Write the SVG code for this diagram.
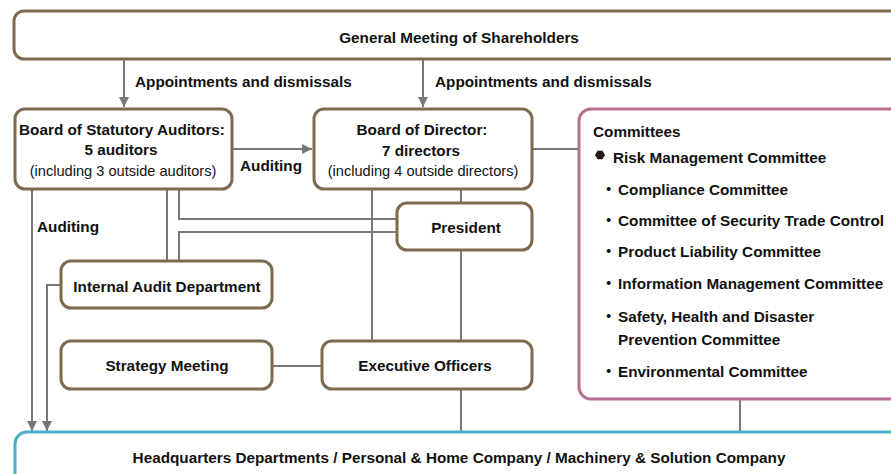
<svg xmlns="http://www.w3.org/2000/svg" width="891" height="474" viewBox="0 0 891 474">
<defs>
<marker id="arr" markerWidth="10" markerHeight="10" refX="10" refY="5" orient="auto" markerUnits="userSpaceOnUse">
<path d="M0,0 L10,5 L0,10 z" fill="#77777c"/>
</marker>
<style>
.box{fill:#fff;stroke:#7d6b50;stroke-width:3}
.cbox{fill:#fff;stroke:#b86f8f;stroke-width:3}
.hbox{fill:#fff;stroke:#4aaec8;stroke-width:3}
.ln{fill:none;stroke:#77777c;stroke-width:2}
.ar{fill:none;stroke:#77777c;stroke-width:2;marker-end:url(#arr)}
text{font-family:"Liberation Sans",Arial,sans-serif;fill:#111;font-size:15.3px;font-weight:bold}
.c{text-anchor:middle}
.r{font-weight:normal;font-size:14.6px}
.jp{font-family:"Liberation Sans","Noto Sans CJK JP",sans-serif}
</style>
</defs>
<g id="connectors">
<line class="ar" x1="124" y1="60" x2="124" y2="107"/>
<line class="ar" x1="423" y1="60" x2="423" y2="107"/>
<line class="ar" x1="233" y1="149" x2="312" y2="149"/>
<line class="ar" x1="32" y1="190" x2="32" y2="431"/>
<path class="ar" d="M61,285 H47 V431"/>
<line class="ln" x1="167" y1="190" x2="167" y2="260"/>
<path class="ln" d="M179,190 V219 H397"/>
<path class="ln" d="M179,260 V232 H397"/>
<line class="ln" x1="461" y1="190" x2="461" y2="202"/>
<line class="ln" x1="461" y1="250" x2="461" y2="340"/>
<line class="ln" x1="372" y1="190" x2="372" y2="340"/>
<line class="ln" x1="273" y1="366" x2="321" y2="366"/>
<line class="ln" x1="461" y1="389" x2="461" y2="432"/>
<line class="ln" x1="533" y1="149" x2="578" y2="149"/>
<line class="ln" x1="740" y1="399" x2="740" y2="432"/>
<text x="135" y="87">Appointments and dismissals</text>
<text x="435" y="87">Appointments and dismissals</text>
<text x="240" y="171">Auditing</text>
<text x="37" y="232">Auditing</text>
</g>
<g id="shareholders">
<rect class="box" x="14" y="11" width="905" height="48" rx="10"/>
<text class="c" x="459" y="43">General Meeting of Shareholders</text>
</g>
<g id="auditors">
<rect class="box" x="15" y="109" width="217" height="80" rx="10"/>
<text class="c" x="122" y="135">Board of Statutory Auditors:</text>
<text class="c" x="121" y="155">5 auditors</text>
<text class="c r" x="123" y="176">(including 3 outside auditors)</text>
</g>
<g id="directors">
<rect class="box" x="314" y="109" width="218" height="80" rx="10"/>
<text class="c" x="422" y="135">Board of Director:</text>
<text class="c" x="421" y="156">7 directors</text>
<text class="c r" x="423" y="176">(including 4 outside directors)</text>
</g>
<g id="president">
<rect class="box" x="397" y="203" width="135" height="47" rx="10"/>
<text class="c" x="466" y="233">President</text>
</g>
<g id="internal-audit">
<rect class="box" x="61" y="261" width="211" height="47" rx="10"/>
<text class="c" x="167" y="292">Internal Audit Department</text>
</g>
<g id="strategy">
<rect class="box" x="61" y="341" width="211" height="48" rx="10"/>
<text class="c" x="167" y="371">Strategy Meeting</text>
</g>
<g id="executive">
<rect class="box" x="322" y="341" width="210" height="48" rx="10"/>
<text class="c" x="425" y="371">Executive Officers</text>
</g>
<g id="committees">
<rect class="cbox" x="579" y="109" width="330" height="290" rx="12"/>
<text x="593" y="137">Committees</text>
<polygon points="595,155 597.5,150.7 602.5,150.7 605,155 602.5,159.3 597.5,159.3" fill="#231815"/>
<text x="613" y="163">Risk Management Committee</text>
<text class="jp" x="601" y="195">・<tspan x="618">Compliance Committee</tspan></text>
<text class="jp" x="601" y="226">・<tspan x="618">Committee of Security Trade Control</tspan></text>
<text class="jp" x="601" y="257">・<tspan x="618">Product Liability Committee</tspan></text>
<text class="jp" x="601" y="289">・<tspan x="618">Information Management Committee</tspan></text>
<text class="jp" x="601" y="322">・<tspan x="618">Safety, Health and Disaster</tspan></text>
<text x="618" y="345">Prevention Committee</text>
<text class="jp" x="601" y="377">・<tspan x="618">Environmental Committee</tspan></text>
</g>
<g id="headquarters">
<rect class="hbox" x="15" y="432" width="905" height="60" rx="12"/>
<text class="c" x="459" y="463">Headquarters Departments / Personal &amp; Home Company / Machinery &amp; Solution Company</text>
</g>
</svg>
